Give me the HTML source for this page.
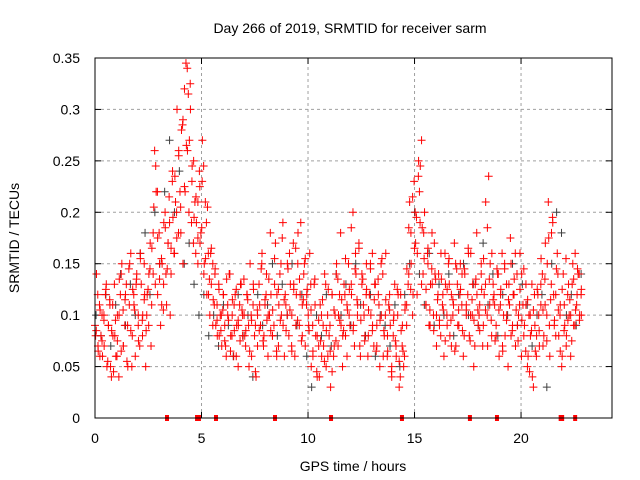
<!DOCTYPE html>
<html><head><meta charset="utf-8"><style>
body{margin:0;background:#fff;}
svg{display:block;font-family:"Liberation Sans",sans-serif;}
</style></head><body>
<svg id="chart" width="640" height="480">
<text x="350" y="33" font-size="14" text-anchor="middle">Day 266 of 2019, SRMTID for receiver sarm</text>
<text x="353" y="471" font-size="14" text-anchor="middle">GPS time / hours</text>
<text transform="translate(19,238) rotate(-90)" font-size="14" text-anchor="middle">SRMTID / TECUs</text>
<g id="grid"></g>
<g id="ticks"></g>
<g id="marks"></g>
<rect x="95" y="58" width="517" height="360" fill="none" stroke="#000" stroke-width="1"/>
</svg>
<script>
const xTicks=[0,5,10,15,20];
const yTicks=[0,0.05,0.1,0.15,0.2,0.25,0.3,0.35];
const yTickLabels=["0","0.05","0.1","0.15","0.2","0.25","0.3","0.35"];
const redAStart=0, redAStep=0.07;
const redAValues=[0.09,0.14,0.07,0.11,0.08,0.06,0.1,0.12,0.05,0.09,
0.11,0.04,0.08,0.13,0.06,0.1,0.04,0.12,0.15,0.07,
0.09,0.13,0.05,0.11,0.16,0.08,0.12,0.06,0.14,0.1,
0.07,0.13,0.1,0.15,0.05,0.12,0.09,0.17,0.11,0.14,
0.26,0.22,0.12,0.18,0.09,0.15,0.13,0.2,0.11,0.17,
0.19,0.14,0.24,0.16,0.21,0.3,0.18,0.22,0.28,0.15,
0.32,0.345,0.26,0.2,0.3,0.23,0.17,0.21,0.19,0.15,
0.24,0.18,0.27,0.14,0.21,0.12,0.16,0.1,0.13,0.15,
0.11,0.09,0.08,0.13,0.1,0.07,0.12,0.09,0.06,0.11,
0.14,0.08,0.1,0.06,0.12,0.09,0.05,0.11,0.13,0.08,
0.1,0.07,0.12,0.09,0.15,0.06,0.11,0.08,0.04,0.1,
0.13,0.09,0.16,0.07,0.11,0.14,0.06,0.1,0.12,0.08,
0.09,0.17,0.12,0.07,0.14,0.1,0.19,0.06,0.11,0.15,
0.08,0.13,0.1,0.17,0.06,0.12,0.15,0.09,0.19,0.11,
0.14,0.07,0.12,0.1,0.16,0.05,0.09,0.13,0.08,0.04,
0.07,0.11,0.06,0.09,0.14,0.05,0.1,0.08,0.03,0.12,
0.06,0.1,0.15,0.07,0.12,0.09,0.05,0.13,0.08,0.11,
0.15,0.09,0.12,0.2,0.07,0.14,0.1,0.17,0.06,0.13,
0.11,0.08,0.15,0.06,0.12,0.1,0.16,0.07,0.13,0.09,
0.12,0.05,0.1,0.14,0.08,0.16,0.06,0.11,0.09,0.04,
0.08,0.13,0.06,0.1,0.03,0.12,0.07,0.05,0.11,0.09,
0.13,0.21,0.15,0.1,0.23,0.17,0.12,0.25,0.19,0.27,
0.14,0.2,0.11,0.16,0.09,0.13,0.18,0.1,0.14,0.07,
0.12,0.09,0.16,0.11,0.06,0.13,0.1,0.15,0.08,0.12,
0.1,0.17,0.07,0.13,0.09,0.15,0.11,0.06,0.14,0.1,
0.12,0.08,0.16,0.1,0.05,0.13,0.18,0.09,0.11,0.14,
0.07,0.12,0.21,0.1,0.235,0.15,0.08,0.13,0.11,0.09,
0.14,0.06,0.12,0.16,0.1,0.08,0.13,0.05,0.11,0.15,
0.09,0.12,0.07,0.14,0.1,0.16,0.06,0.11,0.09,0.13,
0.05,0.1,0.08,0.13,0.03,0.09,0.06,0.12,0.07,0.11,
0.14,0.08,0.17,0.1,0.21,0.06,0.13,0.19,0.09,0.12,
0.16,0.08,0.11,0.05,0.14,0.09,0.07,0.12,0.1,0.06,
0.13,0.09,0.16,0.11,0.14,0.1,0.12];
const redBStart=0.03, redBStep=0.1;
const redBValues=[0.08,0.12,0.06,0.1,0.07,0.13,0.09,0.05,0.11,0.08,
0.06,0.1,0.14,0.07,0.12,0.09,0.15,0.05,0.11,0.13,
0.09,0.16,0.08,0.12,0.1,0.14,0.07,0.18,0.13,0.22,
0.15,0.11,0.19,0.14,0.17,0.1,0.23,0.16,0.2,0.26,
0.18,0.29,0.22,0.34,0.27,0.19,0.25,0.16,0.21,0.17,
0.23,0.15,0.19,0.12,0.16,0.09,0.14,0.11,0.08,0.1,
0.12,0.07,0.1,0.14,0.08,0.11,0.06,0.09,0.13,0.1,
0.08,0.12,0.05,0.1,0.13,0.09,0.07,0.11,0.15,0.08,
0.12,0.1,0.18,0.08,0.13,0.06,0.11,0.15,0.09,0.12,
0.1,0.16,0.07,0.13,0.09,0.18,0.12,0.08,0.15,0.11,
0.09,0.13,0.06,0.11,0.08,0.04,0.1,0.07,0.13,0.06,
0.09,0.12,0.07,0.14,0.1,0.18,0.08,0.12,0.06,0.1,
0.13,0.09,0.16,0.11,0.07,0.14,0.1,0.12,0.08,0.15,
0.09,0.13,0.07,0.11,0.15,0.06,0.1,0.08,0.12,0.05,
0.1,0.07,0.12,0.04,0.09,0.06,0.11,0.14,0.18,0.12,
0.2,0.16,0.22,0.13,0.18,0.11,0.15,0.09,0.13,0.17,
0.1,0.14,0.08,0.12,0.16,0.09,0.13,0.07,0.11,0.15,
0.09,0.12,0.14,0.08,0.11,0.16,0.1,0.13,0.07,0.12,
0.1,0.15,0.09,0.13,0.07,0.11,0.16,0.12,0.08,0.14,
0.11,0.07,0.15,0.1,0.13,0.08,0.12,0.16,0.09,0.11,
0.14,0.08,0.11,0.06,0.1,0.04,0.12,0.08,0.1,0.13,
0.07,0.11,0.15,0.09,0.18,0.12,0.08,0.14,0.1,0.06,
0.11,0.08,0.13,0.1,0.15,0.09,0.12,0.14,0.1];
const redCStart=0.06, redCStep=0.09;
const redCValues=[0.085,0.065,0.105,0.075,0.095,0.125,0.055,0.115,0.085,0.045,
0.095,0.075,0.135,0.065,0.105,0.115,0.055,0.145,0.085,0.125,
0.105,0.135,0.075,0.155,0.095,0.115,0.085,0.125,0.145,0.165,
0.205,0.245,0.175,0.135,0.155,0.105,0.185,0.145,0.215,0.165,
0.195,0.235,0.175,0.255,0.205,0.285,0.225,0.265,0.315,0.325,
0.245,0.195,0.215,0.175,0.225,0.185,0.245,0.155,0.205,0.135,
0.165,0.115,0.145,0.095,0.125,0.085,0.105,0.075,0.135,0.095,
0.065,0.115,0.085,0.125,0.095,0.075,0.105,0.135,0.085,0.115,
0.065,0.095,0.125,0.045,0.105,0.085,0.145,0.075,0.115,0.095,
0.135,0.085,0.105,0.155,0.065,0.125,0.095,0.175,0.115,0.085,
0.145,0.105,0.065,0.125,0.165,0.095,0.135,0.075,0.115,0.155,
0.125,0.085,0.105,0.065,0.135,0.045,0.095,0.075,0.115,0.055,
0.085,0.125,0.065,0.045,0.105,0.075,0.135,0.095,0.115,0.085,
0.155,0.105,0.125,0.185,0.085,0.145,0.115,0.165,0.095,0.135,
0.075,0.125,0.105,0.145,0.085,0.115,0.065,0.135,0.095,0.155,
0.085,0.115,0.065,0.105,0.045,0.095,0.075,0.125,0.055,0.085,
0.065,0.105,0.145,0.185,0.125,0.215,0.165,0.195,0.235,0.245,
0.185,0.155,0.125,0.165,0.105,0.145,0.085,0.135,0.115,0.095,
0.135,0.105,0.075,0.125,0.155,0.095,0.115,0.065,0.145,0.105,
0.125,0.085,0.145,0.105,0.165,0.075,0.115,0.095,0.135,0.105,
0.085,0.125,0.155,0.105,0.185,0.135,0.095,0.115,0.075,0.145,
0.105,0.125,0.065,0.145,0.095,0.115,0.175,0.085,0.135,0.105,
0.075,0.125,0.095,0.145,0.065,0.115,0.045,0.085,0.105,0.065,
0.125,0.085,0.155,0.105,0.135,0.075,0.175,0.115,0.195,0.095,
0.145,0.105,0.065,0.125,0.085,0.155,0.095,0.115,0.075,0.135,
0.105,0.145,0.095,0.125];
const grayStart=0.05, grayStep=0.23;
const grayValues=[0.1,0.08,0.12,0.07,0.11,0.14,0.09,0.13,0.1,0.16,
0.18,0.12,0.2,0.15,0.22,0.27,0.2,0.24,0.15,0.17,
0.13,0.1,0.12,0.08,0.1,0.07,0.11,0.09,0.06,0.12,
0.08,0.1,0.04,0.12,0.09,0.11,0.15,0.08,0.13,0.1,
0.15,0.09,0.12,0.06,0.03,0.1,0.08,0.12,0.07,0.14,
0.1,0.13,0.09,0.15,0.11,0.08,0.12,0.06,0.1,0.09,
0.07,0.11,0.05,0.12,0.15,0.2,0.14,0.11,0.16,0.09,
0.13,0.1,0.14,0.08,0.12,0.15,0.1,0.13,0.09,0.17,
0.11,0.14,0.08,0.12,0.1,0.15,0.09,0.13,0.11,0.07,
0.1,0.12,0.03,0.15,0.2,0.18,0.1,0.12,0.09,0.14];
const gapTimes=[3.38,4.79,4.88,5.68,8.45,11.08,14.41,17.6,18.87,21.86,21.93,22.54];

const X0=95,X1=612,Y0=418,Y1=58,XMAX=24.27,YMAX=0.35;
const NS="http://www.w3.org/2000/svg";
function xs(t){return X0+(X1-X0)*t/XMAX;}
function ys(v){return Y0-(Y0-Y1)*v/YMAX;}
function mk(tag,attrs,parent){const e=document.createElementNS(NS,tag);for(const k in attrs)e.setAttribute(k,attrs[k]);parent.appendChild(e);return e;}
const grid=document.getElementById('grid'),ticks=document.getElementById('ticks'),marks=document.getElementById('marks');
yTicks.forEach((v,i)=>{
  const y=ys(v);
  if(i>0&&i<yTicks.length-1){const g=mk('line',{x1:X0,x2:X1,y1:y,y2:y,stroke:'#a0a0a0','stroke-dasharray':'3,3'},grid);
  
  }
  mk('line',{x1:X0,x2:X0+6,y1:y,y2:y,stroke:'#000'},ticks);
  mk('line',{x1:X1,x2:X1-6,y1:y,y2:y,stroke:'#000'},ticks);
  const t=mk('text',{x:80,y:y+5,'font-size':14,'text-anchor':'end'},ticks);t.textContent=yTickLabels[i];
  
  
});
xTicks.forEach(v=>{
  const x=xs(v);
  if(v>0){const g=mk('line',{x1:x,x2:x,y1:Y0,y2:Y1,stroke:'#a0a0a0','stroke-dasharray':'3,3'},grid);
  
  }
  mk('line',{x1:x,x2:x,y1:Y0,y2:Y0-6,stroke:'#000'},ticks);
  mk('line',{x1:x,x2:x,y1:Y1,y2:Y1+6,stroke:'#000'},ticks);
  const t=mk('text',{x:x,y:443,'font-size':14,'text-anchor':'middle'},ticks);t.textContent=String(v);
  
  
});
function plus(t,v,color,name){
  const x=xs(t),y=ys(v);
  const p=mk('path',{d:`M${x-4},${y}h8M${x},${y-4}v8`,stroke:color,'stroke-width':1,fill:'none'},marks);
  
  
}
grayValues.forEach((v,i)=>plus(grayStart+i*grayStep,v,'#404040','gray-point'));
redCValues.forEach((v,i)=>plus(redCStart+i*redCStep,v,'#ff0000','red-point'));
redBValues.forEach((v,i)=>plus(redBStart+i*redBStep,v,'#ff0000','red-point'));
redAValues.forEach((v,i)=>plus(redAStart+i*redAStep,v,'#ff0000','red-point'));
gapTimes.forEach(t=>{
  const r=mk('rect',{x:xs(t)-2,y:Y0-3,width:4,height:6,fill:'#ff0000'},marks);
  
  
});
</script>
</body></html>
